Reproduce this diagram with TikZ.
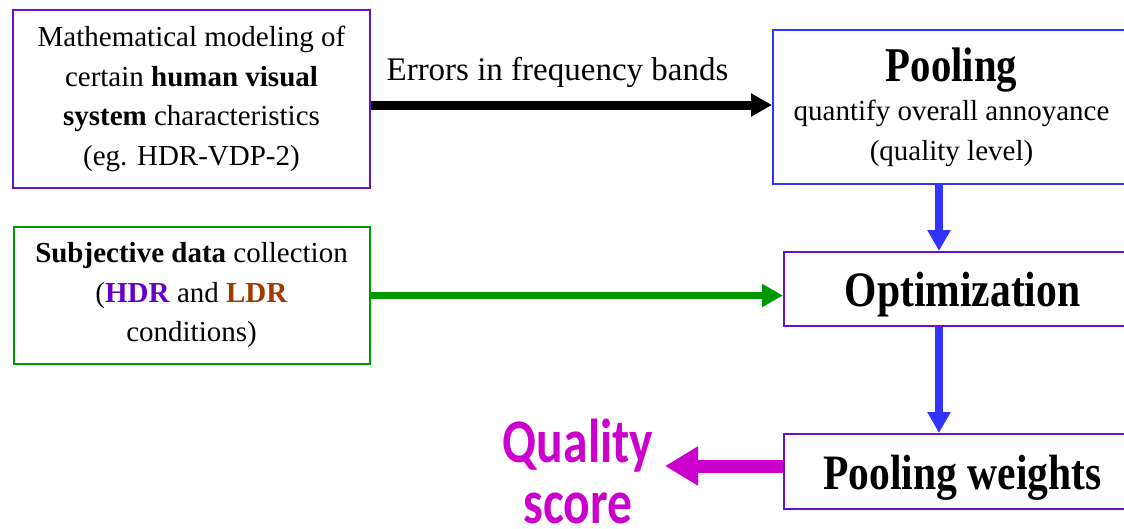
\documentclass[tikz,border=0pt]{standalone}
\usepackage{fontspec}
\setmainfont{Liberation Serif}
\newfontfamily\headfont[FakeStretch=0.84]{Liberation Serif}
\newfontfamily\carlito[FakeStretch=0.8]{Carlito}
\usepackage{tikz}
\usetikzlibrary{arrows.meta, positioning, calc}

\definecolor{hvspurple}{HTML}{6A0FD0}
\definecolor{hdrpurple}{HTML}{6600CC}
\definecolor{ldrbrown}{HTML}{A03A00}
\definecolor{poolblue}{HTML}{3333FF}
\definecolor{subgreen}{HTML}{009900}
\definecolor{qmagenta}{HTML}{CC00CC}

\begin{document}
\begin{tikzpicture}[
	x=1pt, y=-1pt,
	box/.style={rectangle, draw, line width=2pt, align=center, inner sep=0pt,
		font=\fontsize{29}{39.5}\selectfont},
	bigtext/.style={font=\headfont\bfseries\fontsize{49.5}{52}\selectfont,
		text height=35pt, text depth=0pt},
	quality/.style={align=center, inner sep=0pt, text=qmagenta,
		font=\carlito\bfseries\fontsize{62}{61}\selectfont},
	arrow/.style={-{Triangle[length=21pt, width=22pt]}, line width=8pt},
	qarrow/.style={-{Triangle[length=33pt, width=37pt]}, line width=13pt, qmagenta}
	]
	\useasboundingbox (0,0) rectangle (1124,528);

	\node[box, draw=hvspurple, minimum width=357pt, minimum height=178pt] (hvs) at (191.5,99)
		{Mathematical modeling of\\ certain \textbf{human visual}\\ \textbf{system} characteristics\\ (eg. HDR-VDP-2)};
	\node[box, draw=subgreen, minimum width=356pt, minimum height=137pt, below=37pt of hvs] (sub)
		{\textbf{Subjective data} collection\\ (\textcolor{hdrpurple}{\textbf{HDR}} and \textcolor{ldrbrown}{\textbf{LDR}}\\ conditions)};
	\node[box, draw=poolblue, minimum width=357pt, minimum height=154pt] (pool) at (951.5,107)
		{{\headfont\bfseries\fontsize{48.5}{40}\selectfont Pooling}\\ quantify overall annoyance\\ (quality level)};
	\node[box, bigtext, draw=hvspurple, minimum width=357pt, minimum height=74pt] (opt) at (962.5,289) {Optimization};
	\node[box, bigtext, draw=hvspurple, minimum width=357pt, minimum height=75pt, below=106pt of opt] (pw) {Pooling weights};
	\node[quality, anchor=north] (qs) at (578,419) {Quality\\ score};

	\coordinate (col) at (939,0);
	\coordinate (qtip) at (665,466);

	\draw[arrow, black, line width=9pt] ([yshift=-6pt]hvs.east) -- node[above=13pt, xshift=-14pt, inner sep=0pt, font=\fontsize{33}{36}\selectfont] {Errors in frequency bands} ([yshift=-6pt]hvs.east -| pool.west);
	\draw[arrow, subgreen, line width=6.5pt] (sub.east) -- (sub.east -| opt.west);
	\draw[arrow, poolblue] (pool.south -| col) -- (opt.north -| col);
	\draw[arrow, poolblue] (opt.south -| col) -- (pw.north -| col);
	\draw[qarrow] (pw.west |- qtip) -- (qtip);
\end{tikzpicture}
\end{document}
